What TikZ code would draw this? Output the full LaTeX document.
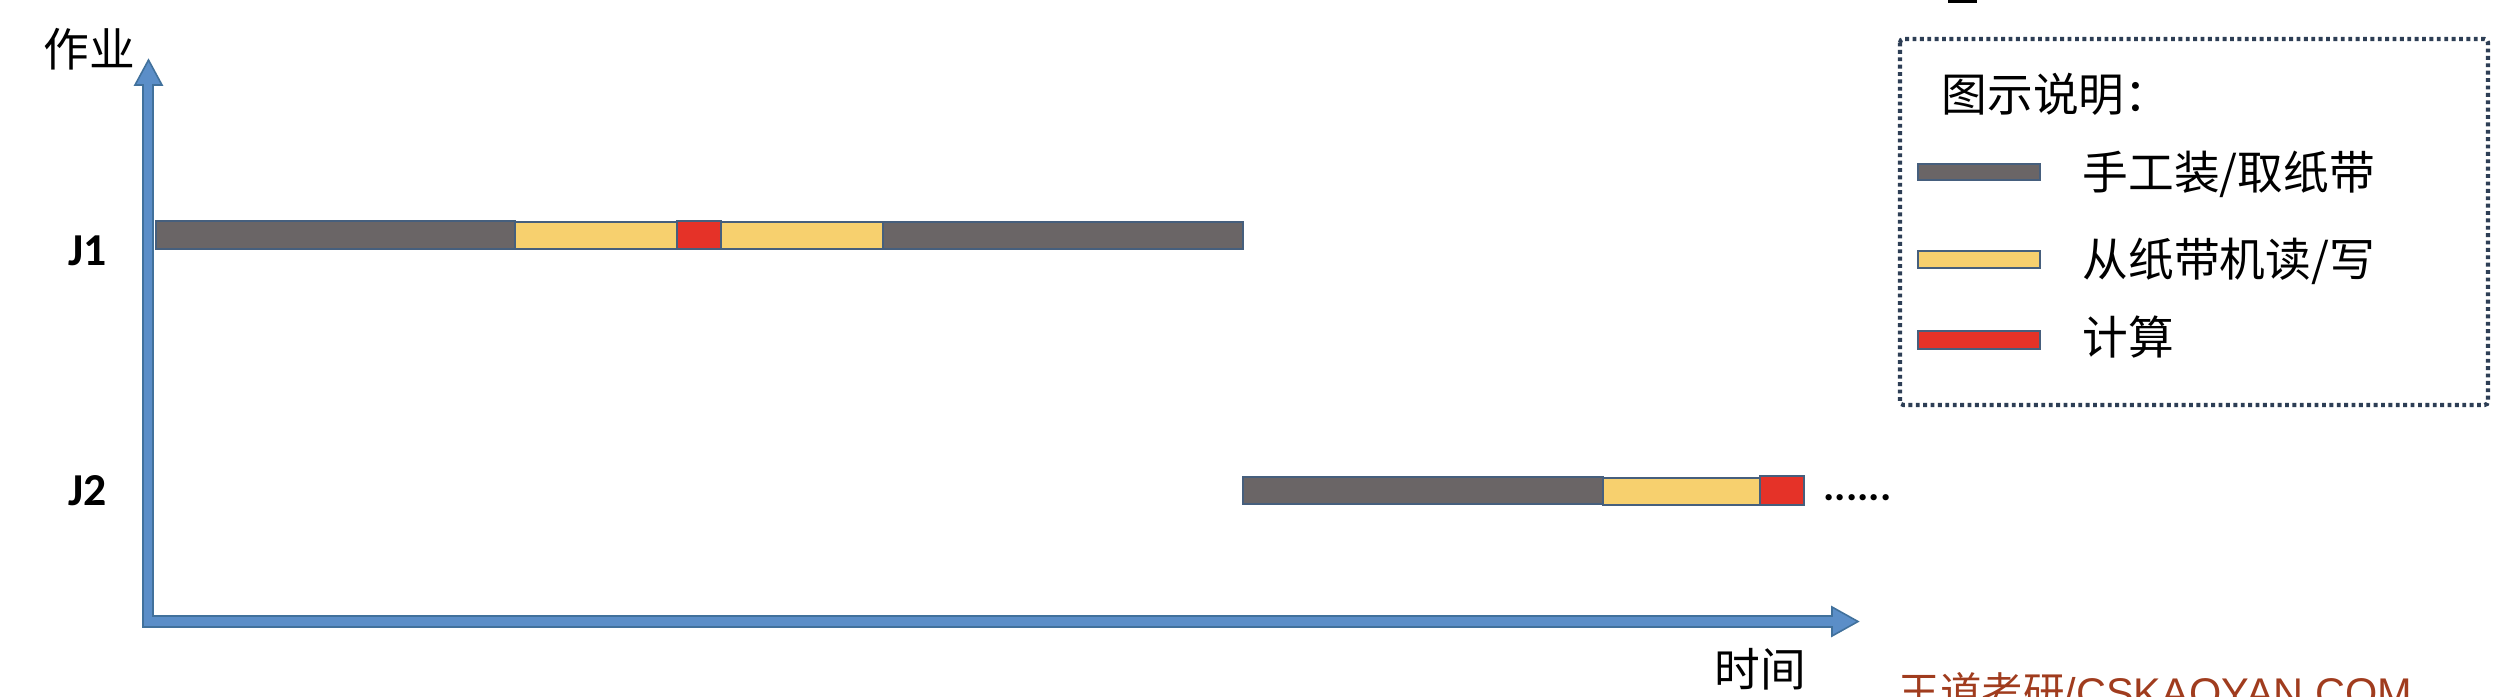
\documentclass[tikz,border=0pt]{standalone}
\usepackage{fontspec}
\setmainfont{Liberation Sans}
\newfontfamily\cjk{Noto Sans CJK SC}
\newfontfamily\calib{Carlito}
\definecolor{axfill}{RGB}{91,142,200}
\definecolor{axline}{RGB}{65,113,156}
\definecolor{manual}{RGB}{106,101,102}
\definecolor{tape}{RGB}{247,208,110}
\definecolor{calc}{RGB}{229,50,40}
\definecolor{segline}{RGB}{70,95,125}
\definecolor{legline}{RGB}{45,62,85}
\definecolor{wm}{RGB}{160,60,30}
\tikzset{
  seg/.style={draw=segline, line width=0.35pt},
  manualseg/.style={seg, fill=manual},
  tapeseg/.style={seg, fill=tape},
  calcseg/.style={seg, fill=calc},
  cjklabel/.style={inner sep=0pt, anchor=base west, font=\cjk\fontsize{13}{15}\selectfont},
  joblabel/.style={inner sep=0pt, anchor=base west, font=\calib\bfseries\fontsize{13}{15}\selectfont},
  legendbox/.style={draw=legline, line width=1.2pt, dash pattern=on 1.1pt off 1pt, rounded corners=1pt}
}
\begin{document}
\begin{tikzpicture}[x=0.01cm,y=-0.01cm]
\useasboundingbox (0,0) rectangle (2500,696);

% axes
\filldraw[fill=axfill, draw=axline, line width=0.45pt, line join=miter]
  (143,627) -- (143,85) -- (135,85) -- (148.5,60) -- (162,85) -- (153,85)
  -- (153,616) -- (1832,616) -- (1832,607) -- (1858,621.5) -- (1832,636)
  -- (1832,627) -- cycle;
\node[cjklabel] (yl) at (43,66.5) {作业};
\node[cjklabel] (xl) at (1714,686.5) {时间};

% job labels
\node[joblabel] (j1) at (68,265) {J1};
\node[joblabel] (j2) at (68,505) {J2};

% J1 bar
\draw[manualseg] (156,221) rectangle (515,249);
\draw[tapeseg]   (515,222) rectangle (677,249);
\draw[calcseg]   (677,221) rectangle (721,249);
\draw[tapeseg]   (721,222) rectangle (883,249);
\draw[manualseg] (883,222) rectangle (1243,249);

% J2 bar
\draw[manualseg] (1243,477) rectangle (1603,504);
\draw[tapeseg]   (1603,478) rectangle (1760,505);
\draw[calcseg]   (1760,476) rectangle (1804,505);
\node[joblabel, font=\calib\bfseries\fontsize{12}{14}\selectfont] (more) at (1823,500) {......};

% legend
\draw[legendbox] (1900,39) rectangle (2488,405);
\node[cjklabel] (lt) at (1941,111) {图示说明：};
\draw[manualseg] (1918,164) rectangle (2040,180);
\draw[tapeseg]   (1918,251) rectangle (2040,268);
\draw[calcseg]   (1918,331) rectangle (2040,349);
\node[cjklabel] (l1) at (2082,189.5) {手工装/取纸带};
\node[cjklabel] (l2) at (2082,276.5) {从纸带机读/写};
\node[cjklabel] (l3) at (2082,354.5) {计算};

% top sliver
\fill[black] (1948,0) rectangle (1977,3);

% watermark (cut by bottom edge, as in the reference)
\begin{scope}
\clip (0,0) rectangle (2500,696);
\node[inner sep=0pt, anchor=base west, text=wm, font=\fontsize{11.8}{14}\selectfont] (wm) at (1898,707) {{\cjk 王道考研}/CSKAOYAN.COM};
\end{scope}
\end{tikzpicture}
\end{document}
